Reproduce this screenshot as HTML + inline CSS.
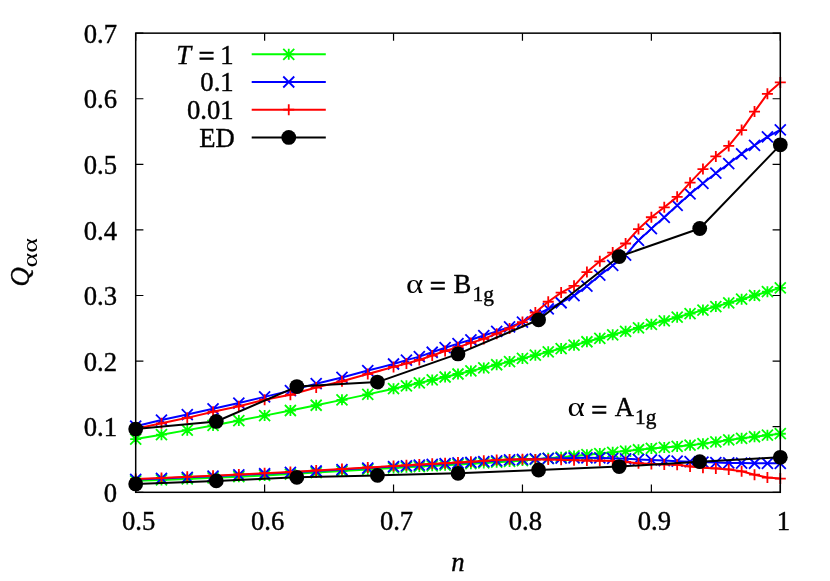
<!DOCTYPE html>
<html><head><meta charset="utf-8"><title>Q vs n</title>
<style>html,body{margin:0;padding:0;background:#fff;}body{width:830px;height:581px;overflow:hidden;font-family:"Liberation Serif",serif;}</style>
</head><body>
<svg width="830" height="581" viewBox="0 0 830 581" style="display:block">
<rect x="0" y="0" width="830" height="581" fill="#fff"/>
<g font-family='"Liberation Serif", serif' font-size="26.67" fill="#000" stroke="#000" stroke-width="0.4" style="opacity:0.999">
<text x="117.0" y="502" text-anchor="end">0</text>
<text x="117.0" y="436.41" text-anchor="end">0.1</text>
<text x="117.0" y="370.81" text-anchor="end">0.2</text>
<text x="117.0" y="305.22" text-anchor="end">0.3</text>
<text x="117.0" y="239.63" text-anchor="end">0.4</text>
<text x="117.0" y="174.04" text-anchor="end">0.5</text>
<text x="117.0" y="108.44" text-anchor="end">0.6</text>
<text x="117.0" y="42.85" text-anchor="end">0.7</text>
<text x="138.7" y="530.0" text-anchor="middle">0.5</text>
<text x="267.62" y="530.0" text-anchor="middle">0.6</text>
<text x="396.54" y="530.0" text-anchor="middle">0.7</text>
<text x="525.46" y="530.0" text-anchor="middle">0.8</text>
<text x="654.38" y="530.0" text-anchor="middle">0.9</text>
<text x="783.3" y="530.0" text-anchor="middle">1</text>
<text x="457.8" y="571" text-anchor="middle" font-style="italic">n</text>
<text transform="translate(28.8,286.6) rotate(-90)" font-style="italic">Q</text>
<text transform="translate(36.8,267.6) rotate(-90) scale(1.32,1)" font-size="21.33" stroke="none">αα</text>
<text x="176.3" y="63.6" font-style="italic">T</text>
<text transform="translate(198.4,64.95) scale(1.07,1)" stroke-width="0.7">=</text>
<text x="233.7" y="63.6" text-anchor="end">1</text>
<text x="233.7" y="91.0" text-anchor="end">0.1</text>
<text x="233.7" y="118.8" text-anchor="end">0.01</text>
<text x="234.79999999999998" y="146.5" text-anchor="end">ED</text>
<text transform="translate(406.1,292.5) scale(1.24,1)" stroke="none">α</text>
<text transform="translate(429.8,295.4) scale(1.07,1)" stroke-width="0.7">=</text>
<text x="453.6" y="292.5">B</text>
<text x="472.6" y="300.5" font-size="21.33">1g</text>
<text transform="translate(567.5,416.1) scale(1.24,1)" stroke="none">α</text>
<text transform="translate(591.3000000000001,419.0) scale(1.07,1)" stroke-width="0.7">=</text>
<text x="614.8" y="416.1">A</text>
<text x="635.1" y="424.1" font-size="21.33">1g</text>
</g>
<polyline points="135.7,439.1 161.48,434.69 187.27,430.13 213.05,425.43 238.84,420.59 264.62,415.62 290.4,410.5 316.19,405.26 341.97,399.87 367.76,394.36 393.54,388.71 406.43,385.83 419.32,382.93 432.22,379.98 445.11,377.01 458,374 470.89,370.96 483.78,367.88 496.68,364.76 509.57,361.6 522.46,358.4 535.35,355.16 548.24,351.87 561.14,348.53 574.03,345.16 586.92,341.74 599.81,338.29 612.7,334.82 625.6,331.32 638.49,327.81 651.38,324.29 664.27,320.77 677.16,317.23 690.06,313.68 702.95,310.11 715.84,306.52 728.73,302.88 741.62,299.21 754.52,295.49 767.41,291.72 780.3,287.91" fill="none" stroke="#00ff00" stroke-width="2.0" stroke-linejoin="round"/>
<path d="M130.2 439.1H141.2M135.7 433.6V444.6M130.2 433.6L141.2 444.6M130.2 444.6L141.2 433.6M155.98 434.69H166.98M161.48 429.19V440.19M155.98 429.19L166.98 440.19M155.98 440.19L166.98 429.19M181.77 430.13H192.77M187.27 424.63V435.63M181.77 424.63L192.77 435.63M181.77 435.63L192.77 424.63M207.55 425.43H218.55M213.05 419.93V430.93M207.55 419.93L218.55 430.93M207.55 430.93L218.55 419.93M233.34 420.59H244.34M238.84 415.09V426.09M233.34 415.09L244.34 426.09M233.34 426.09L244.34 415.09M259.12 415.62H270.12M264.62 410.12V421.12M259.12 410.12L270.12 421.12M259.12 421.12L270.12 410.12M284.9 410.5H295.9M290.4 405V416M284.9 405L295.9 416M284.9 416L295.9 405M310.69 405.26H321.69M316.19 399.76V410.76M310.69 399.76L321.69 410.76M310.69 410.76L321.69 399.76M336.47 399.87H347.47M341.97 394.37V405.37M336.47 394.37L347.47 405.37M336.47 405.37L347.47 394.37M362.26 394.36H373.26M367.76 388.86V399.86M362.26 388.86L373.26 399.86M362.26 399.86L373.26 388.86M388.04 388.71H399.04M393.54 383.21V394.21M388.04 383.21L399.04 394.21M388.04 394.21L399.04 383.21M400.93 385.83H411.93M406.43 380.33V391.33M400.93 380.33L411.93 391.33M400.93 391.33L411.93 380.33M413.82 382.93H424.82M419.32 377.43V388.43M413.82 377.43L424.82 388.43M413.82 388.43L424.82 377.43M426.72 379.98H437.72M432.22 374.48V385.48M426.72 374.48L437.72 385.48M426.72 385.48L437.72 374.48M439.61 377.01H450.61M445.11 371.51V382.51M439.61 371.51L450.61 382.51M439.61 382.51L450.61 371.51M452.5 374H463.5M458 368.5V379.5M452.5 368.5L463.5 379.5M452.5 379.5L463.5 368.5M465.39 370.96H476.39M470.89 365.46V376.46M465.39 365.46L476.39 376.46M465.39 376.46L476.39 365.46M478.28 367.88H489.28M483.78 362.38V373.38M478.28 362.38L489.28 373.38M478.28 373.38L489.28 362.38M491.18 364.76H502.18M496.68 359.26V370.26M491.18 359.26L502.18 370.26M491.18 370.26L502.18 359.26M504.07 361.6H515.07M509.57 356.1V367.1M504.07 356.1L515.07 367.1M504.07 367.1L515.07 356.1M516.96 358.4H527.96M522.46 352.9V363.9M516.96 352.9L527.96 363.9M516.96 363.9L527.96 352.9M529.85 355.16H540.85M535.35 349.66V360.66M529.85 349.66L540.85 360.66M529.85 360.66L540.85 349.66M542.74 351.87H553.74M548.24 346.37V357.37M542.74 346.37L553.74 357.37M542.74 357.37L553.74 346.37M555.64 348.53H566.64M561.14 343.03V354.03M555.64 343.03L566.64 354.03M555.64 354.03L566.64 343.03M568.53 345.16H579.53M574.03 339.66V350.66M568.53 339.66L579.53 350.66M568.53 350.66L579.53 339.66M581.42 341.74H592.42M586.92 336.24V347.24M581.42 336.24L592.42 347.24M581.42 347.24L592.42 336.24M594.31 338.29H605.31M599.81 332.79V343.79M594.31 332.79L605.31 343.79M594.31 343.79L605.31 332.79M607.2 334.82H618.2M612.7 329.32V340.32M607.2 329.32L618.2 340.32M607.2 340.32L618.2 329.32M620.1 331.32H631.1M625.6 325.82V336.82M620.1 325.82L631.1 336.82M620.1 336.82L631.1 325.82M632.99 327.81H643.99M638.49 322.31V333.31M632.99 322.31L643.99 333.31M632.99 333.31L643.99 322.31M645.88 324.29H656.88M651.38 318.79V329.79M645.88 318.79L656.88 329.79M645.88 329.79L656.88 318.79M658.77 320.77H669.77M664.27 315.27V326.27M658.77 315.27L669.77 326.27M658.77 326.27L669.77 315.27M671.66 317.23H682.66M677.16 311.73V322.73M671.66 311.73L682.66 322.73M671.66 322.73L682.66 311.73M684.56 313.68H695.56M690.06 308.18V319.18M684.56 308.18L695.56 319.18M684.56 319.18L695.56 308.18M697.45 310.11H708.45M702.95 304.61V315.61M697.45 304.61L708.45 315.61M697.45 315.61L708.45 304.61M710.34 306.52H721.34M715.84 301.02V312.02M710.34 301.02L721.34 312.02M710.34 312.02L721.34 301.02M723.23 302.88H734.23M728.73 297.38V308.38M723.23 297.38L734.23 308.38M723.23 308.38L734.23 297.38M736.12 299.21H747.12M741.62 293.71V304.71M736.12 293.71L747.12 304.71M736.12 304.71L747.12 293.71M749.02 295.49H760.02M754.52 289.99V300.99M749.02 289.99L760.02 300.99M749.02 300.99L760.02 289.99M761.91 291.72H772.91M767.41 286.22V297.22M761.91 286.22L772.91 297.22M761.91 297.22L772.91 286.22M774.8 287.91H785.8M780.3 282.41V293.41M774.8 282.41L785.8 293.41M774.8 293.41L785.8 282.41" fill="none" stroke="#00ff00" stroke-width="1.8"/>
<polyline points="135.7,480.82 161.48,479.91 187.27,478.91 213.05,477.83 238.84,476.67 264.62,475.44 290.4,474.08 316.19,472.57 341.97,470.99 367.76,469.41 393.54,467.9 406.43,467.2 419.32,466.51 432.22,465.83 445.11,465.14 458,464.42 470.89,463.69 483.78,462.96 496.68,462.19 509.57,461.38 522.46,460.49 535.35,459.48 548.24,458.34 561.14,457.14 574.03,455.91 586.92,454.72 599.81,453.55 612.7,452.35 625.6,451.07 638.49,449.74 651.38,448.48 664.27,447.4 677.16,446.38 690.06,445.2 702.95,443.63 715.84,441.92 728.73,439.96 741.62,438.32 754.52,436.74 767.41,435.23 780.3,433.73" fill="none" stroke="#00ff00" stroke-width="2.0" stroke-linejoin="round"/>
<path d="M130.2 480.82H141.2M135.7 475.32V486.32M130.2 475.32L141.2 486.32M130.2 486.32L141.2 475.32M155.98 479.91H166.98M161.48 474.41V485.41M155.98 474.41L166.98 485.41M155.98 485.41L166.98 474.41M181.77 478.91H192.77M187.27 473.41V484.41M181.77 473.41L192.77 484.41M181.77 484.41L192.77 473.41M207.55 477.83H218.55M213.05 472.33V483.33M207.55 472.33L218.55 483.33M207.55 483.33L218.55 472.33M233.34 476.67H244.34M238.84 471.17V482.17M233.34 471.17L244.34 482.17M233.34 482.17L244.34 471.17M259.12 475.44H270.12M264.62 469.94V480.94M259.12 469.94L270.12 480.94M259.12 480.94L270.12 469.94M284.9 474.08H295.9M290.4 468.58V479.58M284.9 468.58L295.9 479.58M284.9 479.58L295.9 468.58M310.69 472.57H321.69M316.19 467.07V478.07M310.69 467.07L321.69 478.07M310.69 478.07L321.69 467.07M336.47 470.99H347.47M341.97 465.49V476.49M336.47 465.49L347.47 476.49M336.47 476.49L347.47 465.49M362.26 469.41H373.26M367.76 463.91V474.91M362.26 463.91L373.26 474.91M362.26 474.91L373.26 463.91M388.04 467.9H399.04M393.54 462.4V473.4M388.04 462.4L399.04 473.4M388.04 473.4L399.04 462.4M400.93 467.2H411.93M406.43 461.7V472.7M400.93 461.7L411.93 472.7M400.93 472.7L411.93 461.7M413.82 466.51H424.82M419.32 461.01V472.01M413.82 461.01L424.82 472.01M413.82 472.01L424.82 461.01M426.72 465.83H437.72M432.22 460.33V471.33M426.72 460.33L437.72 471.33M426.72 471.33L437.72 460.33M439.61 465.14H450.61M445.11 459.64V470.64M439.61 459.64L450.61 470.64M439.61 470.64L450.61 459.64M452.5 464.42H463.5M458 458.92V469.92M452.5 458.92L463.5 469.92M452.5 469.92L463.5 458.92M465.39 463.69H476.39M470.89 458.19V469.19M465.39 458.19L476.39 469.19M465.39 469.19L476.39 458.19M478.28 462.96H489.28M483.78 457.46V468.46M478.28 457.46L489.28 468.46M478.28 468.46L489.28 457.46M491.18 462.19H502.18M496.68 456.69V467.69M491.18 456.69L502.18 467.69M491.18 467.69L502.18 456.69M504.07 461.38H515.07M509.57 455.88V466.88M504.07 455.88L515.07 466.88M504.07 466.88L515.07 455.88M516.96 460.49H527.96M522.46 454.99V465.99M516.96 454.99L527.96 465.99M516.96 465.99L527.96 454.99M529.85 459.48H540.85M535.35 453.98V464.98M529.85 453.98L540.85 464.98M529.85 464.98L540.85 453.98M542.74 458.34H553.74M548.24 452.84V463.84M542.74 452.84L553.74 463.84M542.74 463.84L553.74 452.84M555.64 457.14H566.64M561.14 451.64V462.64M555.64 451.64L566.64 462.64M555.64 462.64L566.64 451.64M568.53 455.91H579.53M574.03 450.41V461.41M568.53 450.41L579.53 461.41M568.53 461.41L579.53 450.41M581.42 454.72H592.42M586.92 449.22V460.22M581.42 449.22L592.42 460.22M581.42 460.22L592.42 449.22M594.31 453.55H605.31M599.81 448.05V459.05M594.31 448.05L605.31 459.05M594.31 459.05L605.31 448.05M607.2 452.35H618.2M612.7 446.85V457.85M607.2 446.85L618.2 457.85M607.2 457.85L618.2 446.85M620.1 451.07H631.1M625.6 445.57V456.57M620.1 445.57L631.1 456.57M620.1 456.57L631.1 445.57M632.99 449.74H643.99M638.49 444.24V455.24M632.99 444.24L643.99 455.24M632.99 455.24L643.99 444.24M645.88 448.48H656.88M651.38 442.98V453.98M645.88 442.98L656.88 453.98M645.88 453.98L656.88 442.98M658.77 447.4H669.77M664.27 441.9V452.9M658.77 441.9L669.77 452.9M658.77 452.9L669.77 441.9M671.66 446.38H682.66M677.16 440.88V451.88M671.66 440.88L682.66 451.88M671.66 451.88L682.66 440.88M684.56 445.2H695.56M690.06 439.7V450.7M684.56 439.7L695.56 450.7M684.56 450.7L695.56 439.7M697.45 443.63H708.45M702.95 438.13V449.13M697.45 438.13L708.45 449.13M697.45 449.13L708.45 438.13M710.34 441.92H721.34M715.84 436.42V447.42M710.34 436.42L721.34 447.42M710.34 447.42L721.34 436.42M723.23 439.96H734.23M728.73 434.46V445.46M723.23 434.46L734.23 445.46M723.23 445.46L734.23 434.46M736.12 438.32H747.12M741.62 432.82V443.82M736.12 432.82L747.12 443.82M736.12 443.82L747.12 432.82M749.02 436.74H760.02M754.52 431.24V442.24M749.02 431.24L760.02 442.24M749.02 442.24L760.02 431.24M761.91 435.23H772.91M767.41 429.73V440.73M761.91 429.73L772.91 440.73M761.91 440.73L772.91 429.73M774.8 433.73H785.8M780.3 428.23V439.23M774.8 428.23L785.8 439.23M774.8 439.23L785.8 428.23" fill="none" stroke="#00ff00" stroke-width="1.8"/>
<polyline points="135.7,426.18 161.48,420.02 187.27,414.57 213.05,408.8 238.84,403.03 264.62,396.86 290.4,390.63 316.19,383.68 341.97,377.45 367.76,370.56 393.54,364 406.43,360.13 419.32,356.65 432.22,352.26 445.11,347.73 458,343.67 470.89,339.8 483.78,335.53 496.68,331.34 509.57,326.94 522.46,322.09 535.35,315.2 548.24,308.97 561.14,302.74 574.03,295.72 586.92,286.14 599.81,275.19 612.7,265.48 625.6,255.05 638.49,240.42 651.38,228.62 664.27,217.27 677.16,205.4 690.06,193.98 702.95,183.29 715.84,173.19 728.73,163.68 741.62,153.78 754.52,145.31 767.41,136.79 780.3,129.77" fill="none" stroke="#0000ff" stroke-width="2.0" stroke-linejoin="round"/>
<path d="M130.2 420.68L141.2 431.68M130.2 431.68L141.2 420.68M155.98 414.52L166.98 425.52M155.98 425.52L166.98 414.52M181.77 409.07L192.77 420.07M181.77 420.07L192.77 409.07M207.55 403.3L218.55 414.3M207.55 414.3L218.55 403.3M233.34 397.53L244.34 408.53M233.34 408.53L244.34 397.53M259.12 391.36L270.12 402.36M259.12 402.36L270.12 391.36M284.9 385.13L295.9 396.13M284.9 396.13L295.9 385.13M310.69 378.18L321.69 389.18M310.69 389.18L321.69 378.18M336.47 371.95L347.47 382.95M336.47 382.95L347.47 371.95M362.26 365.06L373.26 376.06M362.26 376.06L373.26 365.06M388.04 358.5L399.04 369.5M388.04 369.5L399.04 358.5M400.93 354.63L411.93 365.63M400.93 365.63L411.93 354.63M413.82 351.15L424.82 362.15M413.82 362.15L424.82 351.15M426.72 346.76L437.72 357.76M426.72 357.76L437.72 346.76M439.61 342.23L450.61 353.23M439.61 353.23L450.61 342.23M452.5 338.17L463.5 349.17M452.5 349.17L463.5 338.17M465.39 334.3L476.39 345.3M465.39 345.3L476.39 334.3M478.28 330.03L489.28 341.03M478.28 341.03L489.28 330.03M491.18 325.84L502.18 336.84M491.18 336.84L502.18 325.84M504.07 321.44L515.07 332.44M504.07 332.44L515.07 321.44M516.96 316.59L527.96 327.59M516.96 327.59L527.96 316.59M529.85 309.7L540.85 320.7M529.85 320.7L540.85 309.7M542.74 303.47L553.74 314.47M542.74 314.47L553.74 303.47M555.64 297.24L566.64 308.24M555.64 308.24L566.64 297.24M568.53 290.22L579.53 301.22M568.53 301.22L579.53 290.22M581.42 280.64L592.42 291.64M581.42 291.64L592.42 280.64M594.31 269.69L605.31 280.69M594.31 280.69L605.31 269.69M607.2 259.98L618.2 270.98M607.2 270.98L618.2 259.98M620.1 249.55L631.1 260.55M620.1 260.55L631.1 249.55M632.99 234.92L643.99 245.92M632.99 245.92L643.99 234.92M645.88 223.12L656.88 234.12M645.88 234.12L656.88 223.12M658.77 211.77L669.77 222.77M658.77 222.77L669.77 211.77M671.66 199.9L682.66 210.9M671.66 210.9L682.66 199.9M684.56 188.48L695.56 199.48M684.56 199.48L695.56 188.48M697.45 177.79L708.45 188.79M697.45 188.79L708.45 177.79M710.34 167.69L721.34 178.69M710.34 178.69L721.34 167.69M723.23 158.18L734.23 169.18M723.23 169.18L734.23 158.18M736.12 148.28L747.12 159.28M736.12 159.28L747.12 148.28M749.02 139.81L760.02 150.81M749.02 150.81L760.02 139.81M761.91 131.29L772.91 142.29M761.91 142.29L772.91 131.29M774.8 124.27L785.8 135.27M774.8 135.27L785.8 124.27" fill="none" stroke="#0000ff" stroke-width="1.8"/>
<polyline points="135.7,479.44 161.48,478.42 187.27,477.33 213.05,476.18 238.84,474.98 264.62,473.74 290.4,472.41 316.19,471 341.97,469.53 367.76,468.05 393.54,466.59 406.43,465.86 419.32,465.13 432.22,464.4 445.11,463.68 458,462.98 470.89,462.27 483.78,461.53 496.68,460.82 509.57,459.8 522.46,459.31 535.35,458.89 548.24,458.48 561.14,458.13 574.03,457.89 586.92,457.8 599.81,457.94 612.7,458.32 625.6,458.84 638.49,459.42 651.38,459.96 664.27,460.53 677.16,461.14 690.06,461.67 702.95,462.12 715.84,462.54 728.73,462.89 741.62,463.11 754.52,463.24 767.41,463.34 780.3,463.37" fill="none" stroke="#0000ff" stroke-width="2.0" stroke-linejoin="round"/>
<path d="M130.2 473.94L141.2 484.94M130.2 484.94L141.2 473.94M155.98 472.92L166.98 483.92M155.98 483.92L166.98 472.92M181.77 471.83L192.77 482.83M181.77 482.83L192.77 471.83M207.55 470.68L218.55 481.68M207.55 481.68L218.55 470.68M233.34 469.48L244.34 480.48M233.34 480.48L244.34 469.48M259.12 468.24L270.12 479.24M259.12 479.24L270.12 468.24M284.9 466.91L295.9 477.91M284.9 477.91L295.9 466.91M310.69 465.5L321.69 476.5M310.69 476.5L321.69 465.5M336.47 464.03L347.47 475.03M336.47 475.03L347.47 464.03M362.26 462.55L373.26 473.55M362.26 473.55L373.26 462.55M388.04 461.09L399.04 472.09M388.04 472.09L399.04 461.09M400.93 460.36L411.93 471.36M400.93 471.36L411.93 460.36M413.82 459.63L424.82 470.63M413.82 470.63L424.82 459.63M426.72 458.9L437.72 469.9M426.72 469.9L437.72 458.9M439.61 458.18L450.61 469.18M439.61 469.18L450.61 458.18M452.5 457.48L463.5 468.48M452.5 468.48L463.5 457.48M465.39 456.77L476.39 467.77M465.39 467.77L476.39 456.77M478.28 456.03L489.28 467.03M478.28 467.03L489.28 456.03M491.18 455.32L502.18 466.32M491.18 466.32L502.18 455.32M504.07 454.3L515.07 465.3M504.07 465.3L515.07 454.3M516.96 453.81L527.96 464.81M516.96 464.81L527.96 453.81M529.85 453.39L540.85 464.39M529.85 464.39L540.85 453.39M542.74 452.98L553.74 463.98M542.74 463.98L553.74 452.98M555.64 452.63L566.64 463.63M555.64 463.63L566.64 452.63M568.53 452.39L579.53 463.39M568.53 463.39L579.53 452.39M581.42 452.3L592.42 463.3M581.42 463.3L592.42 452.3M594.31 452.44L605.31 463.44M594.31 463.44L605.31 452.44M607.2 452.82L618.2 463.82M607.2 463.82L618.2 452.82M620.1 453.34L631.1 464.34M620.1 464.34L631.1 453.34M632.99 453.92L643.99 464.92M632.99 464.92L643.99 453.92M645.88 454.46L656.88 465.46M645.88 465.46L656.88 454.46M658.77 455.03L669.77 466.03M658.77 466.03L669.77 455.03M671.66 455.64L682.66 466.64M671.66 466.64L682.66 455.64M684.56 456.17L695.56 467.17M684.56 467.17L695.56 456.17M697.45 456.62L708.45 467.62M697.45 467.62L708.45 456.62M710.34 457.04L721.34 468.04M710.34 468.04L721.34 457.04M723.23 457.39L734.23 468.39M723.23 468.39L734.23 457.39M736.12 457.61L747.12 468.61M736.12 468.61L747.12 457.61M749.02 457.74L760.02 468.74M749.02 468.74L760.02 457.74M761.91 457.84L772.91 468.84M761.91 468.84L772.91 457.84M774.8 457.87L785.8 468.87M774.8 468.87L785.8 457.87" fill="none" stroke="#0000ff" stroke-width="1.8"/>
<polyline points="135.7,428.67 161.48,423.3 187.27,417.85 213.05,411.69 238.84,406.31 264.62,399.75 290.4,394.76 316.19,387.48 341.97,381.32 367.76,374.04 393.54,366.89 406.43,363.41 419.32,359.93 432.22,355.54 445.11,351.01 458,347.14 470.89,342.88 483.78,338.88 496.68,333.63 509.57,328.45 522.46,322.09 535.35,312.51 548.24,301.75 561.14,292.57 574.03,285.81 586.92,272.04 599.81,261.35 612.7,252.62 625.6,243.51 638.49,229.08 651.38,217.27 664.27,207.3 677.16,196.87 690.06,182.7 702.95,169.12 715.84,156.4 728.73,145.97 741.62,130.1 754.52,111.6 767.41,93.82 780.3,82.41" fill="none" stroke="#ff0000" stroke-width="2.0" stroke-linejoin="round"/>
<path d="M130.2 428.67H141.2M135.7 423.17V434.17M155.98 423.3H166.98M161.48 417.8V428.8M181.77 417.85H192.77M187.27 412.35V423.35M207.55 411.69H218.55M213.05 406.19V417.19M233.34 406.31H244.34M238.84 400.81V411.81M259.12 399.75H270.12M264.62 394.25V405.25M284.9 394.76H295.9M290.4 389.26V400.26M310.69 387.48H321.69M316.19 381.98V392.98M336.47 381.32H347.47M341.97 375.82V386.82M362.26 374.04H373.26M367.76 368.54V379.54M388.04 366.89H399.04M393.54 361.39V372.39M400.93 363.41H411.93M406.43 357.91V368.91M413.82 359.93H424.82M419.32 354.43V365.43M426.72 355.54H437.72M432.22 350.04V361.04M439.61 351.01H450.61M445.11 345.51V356.51M452.5 347.14H463.5M458 341.64V352.64M465.39 342.88H476.39M470.89 337.38V348.38M478.28 338.88H489.28M483.78 333.38V344.38M491.18 333.63H502.18M496.68 328.13V339.13M504.07 328.45H515.07M509.57 322.95V333.95M516.96 322.09H527.96M522.46 316.59V327.59M529.85 312.51H540.85M535.35 307.01V318.01M542.74 301.75H553.74M548.24 296.25V307.25M555.64 292.57H566.64M561.14 287.07V298.07M568.53 285.81H579.53M574.03 280.31V291.31M581.42 272.04H592.42M586.92 266.54V277.54M594.31 261.35H605.31M599.81 255.85V266.85M607.2 252.62H618.2M612.7 247.12V258.12M620.1 243.51H631.1M625.6 238.01V249.01M632.99 229.08H643.99M638.49 223.58V234.58M645.88 217.27H656.88M651.38 211.77V222.77M658.77 207.3H669.77M664.27 201.8V212.8M671.66 196.87H682.66M677.16 191.37V202.37M684.56 182.7H695.56M690.06 177.2V188.2M697.45 169.12H708.45M702.95 163.62V174.62M710.34 156.4H721.34M715.84 150.9V161.9M723.23 145.97H734.23M728.73 140.47V151.47M736.12 130.1H747.12M741.62 124.6V135.6M749.02 111.6H760.02M754.52 106.1V117.1M761.91 93.82H772.91M767.41 88.32V99.32M774.8 82.41H785.8M780.3 76.91V87.91" fill="none" stroke="#ff0000" stroke-width="1.8"/>
<polyline points="135.7,478.92 161.48,477.89 187.27,476.8 213.05,475.66 238.84,474.46 264.62,473.21 290.4,471.89 316.19,470.47 341.97,469 367.76,467.52 393.54,466.06 406.43,465.34 419.32,464.6 432.22,463.86 445.11,463.15 458,462.46 470.89,461.7 483.78,460.86 496.68,460.09 509.57,459.53 522.46,459.31 535.35,459.39 548.24,459.59 561.14,459.83 574.03,460.16 586.92,460.49 599.81,460.63 612.7,460.82 625.6,461.94 638.49,463.37 651.38,464.1 664.27,464.42 677.16,464.82 690.06,466.39 702.95,467.7 715.84,468.42 728.73,469.41 741.62,471.31 754.52,474.66 767.41,477.54 780.3,478.53" fill="none" stroke="#ff0000" stroke-width="2.0" stroke-linejoin="round"/>
<path d="M130.2 478.92H141.2M135.7 473.42V484.42M155.98 477.89H166.98M161.48 472.39V483.39M181.77 476.8H192.77M187.27 471.3V482.3M207.55 475.66H218.55M213.05 470.16V481.16M233.34 474.46H244.34M238.84 468.96V479.96M259.12 473.21H270.12M264.62 467.71V478.71M284.9 471.89H295.9M290.4 466.39V477.39M310.69 470.47H321.69M316.19 464.97V475.97M336.47 469H347.47M341.97 463.5V474.5M362.26 467.52H373.26M367.76 462.02V473.02M388.04 466.06H399.04M393.54 460.56V471.56M400.93 465.34H411.93M406.43 459.84V470.84M413.82 464.6H424.82M419.32 459.1V470.1M426.72 463.86H437.72M432.22 458.36V469.36M439.61 463.15H450.61M445.11 457.65V468.65M452.5 462.46H463.5M458 456.96V467.96M465.39 461.7H476.39M470.89 456.2V467.2M478.28 460.86H489.28M483.78 455.36V466.36M491.18 460.09H502.18M496.68 454.59V465.59M504.07 459.53H515.07M509.57 454.03V465.03M516.96 459.31H527.96M522.46 453.81V464.81M529.85 459.39H540.85M535.35 453.89V464.89M542.74 459.59H553.74M548.24 454.09V465.09M555.64 459.83H566.64M561.14 454.33V465.33M568.53 460.16H579.53M574.03 454.66V465.66M581.42 460.49H592.42M586.92 454.99V465.99M594.31 460.63H605.31M599.81 455.13V466.13M607.2 460.82H618.2M612.7 455.32V466.32M620.1 461.94H631.1M625.6 456.44V467.44M632.99 463.37H643.99M638.49 457.87V468.87M645.88 464.1H656.88M651.38 458.6V469.6M658.77 464.42H669.77M664.27 458.92V469.92M671.66 464.82H682.66M677.16 459.32V470.32M684.56 466.39H695.56M690.06 460.89V471.89M697.45 467.7H708.45M702.95 462.2V473.2M710.34 468.42H721.34M715.84 462.92V473.92M723.23 469.41H734.23M728.73 463.91V474.91M736.12 471.31H747.12M741.62 465.81V476.81M749.02 474.66H760.02M754.52 469.16V480.16M761.91 477.54H772.91M767.41 472.04V483.04M774.8 478.53H785.8M780.3 473.03V484.03" fill="none" stroke="#ff0000" stroke-width="1.8"/>
<polyline points="135.7,429.07 216.27,421.46 296.85,386.56 377.42,382.1 458,353.9 538.57,319.79 619.15,256.56 699.72,228.49 780.3,144.85" fill="none" stroke="#000000" stroke-width="2.0" stroke-linejoin="round"/>
<circle cx="135.7" cy="429.07" r="7.4" fill="#000"/><circle cx="216.27" cy="421.46" r="7.4" fill="#000"/><circle cx="296.85" cy="386.56" r="7.4" fill="#000"/><circle cx="377.42" cy="382.1" r="7.4" fill="#000"/><circle cx="458" cy="353.9" r="7.4" fill="#000"/><circle cx="538.57" cy="319.79" r="7.4" fill="#000"/><circle cx="619.15" cy="256.56" r="7.4" fill="#000"/><circle cx="699.72" cy="228.49" r="7.4" fill="#000"/><circle cx="780.3" cy="144.85" r="7.4" fill="#000"/>
<polyline points="135.7,483.97 216.27,480.89 296.85,477.34 377.42,475.38 458,473.28 538.57,470 619.15,466.59 699.72,461.67 780.3,457.34" fill="none" stroke="#000000" stroke-width="2.0" stroke-linejoin="round"/>
<circle cx="135.7" cy="483.97" r="7.4" fill="#000"/><circle cx="216.27" cy="480.89" r="7.4" fill="#000"/><circle cx="296.85" cy="477.34" r="7.4" fill="#000"/><circle cx="377.42" cy="475.38" r="7.4" fill="#000"/><circle cx="458" cy="473.28" r="7.4" fill="#000"/><circle cx="538.57" cy="470" r="7.4" fill="#000"/><circle cx="619.15" cy="466.59" r="7.4" fill="#000"/><circle cx="699.72" cy="461.67" r="7.4" fill="#000"/><circle cx="780.3" cy="457.34" r="7.4" fill="#000"/>
<path d="M251.7 54.3H325.8" stroke="#00ff00" stroke-width="2.0" fill="none"/>
<path d="M283.25 54.3H294.25M288.75 48.8V59.8M283.25 48.8L294.25 59.8M283.25 59.8L294.25 48.8" fill="none" stroke="#00ff00" stroke-width="1.8"/>
<path d="M251.7 82H325.8" stroke="#0000ff" stroke-width="2.0" fill="none"/>
<path d="M283.25 76.5L294.25 87.5M283.25 87.5L294.25 76.5" fill="none" stroke="#0000ff" stroke-width="1.8"/>
<path d="M251.7 109.7H325.8" stroke="#ff0000" stroke-width="2.0" fill="none"/>
<path d="M283.25 109.7H294.25M288.75 104.2V115.2" fill="none" stroke="#ff0000" stroke-width="1.8"/>
<path d="M251.7 137.4H325.8" stroke="#000000" stroke-width="2.0" fill="none"/>
<circle cx="288.75" cy="137.4" r="7.4" fill="#000"/>
<path d="M135.7 492.3V484.6M135.7 33.15V40.85M264.62 492.3V484.6M264.62 33.15V40.85M393.54 492.3V484.6M393.54 33.15V40.85M522.46 492.3V484.6M522.46 33.15V40.85M651.38 492.3V484.6M651.38 33.15V40.85M780.3 492.3V484.6M780.3 33.15V40.85M135.7 492.3H143.4M780.3 492.3H772.6M135.7 426.71H143.4M780.3 426.71H772.6M135.7 361.11H143.4M780.3 361.11H772.6M135.7 295.52H143.4M780.3 295.52H772.6M135.7 229.93H143.4M780.3 229.93H772.6M135.7 164.34H143.4M780.3 164.34H772.6M135.7 98.74H143.4M780.3 98.74H772.6M135.7 33.15H143.4M780.3 33.15H772.6" stroke="#000" stroke-width="1.2" fill="none"/>
<rect x="135.7" y="33.15" width="644.6" height="459.15" fill="none" stroke="#000" stroke-width="1.5"/>
</svg>
</body></html>
